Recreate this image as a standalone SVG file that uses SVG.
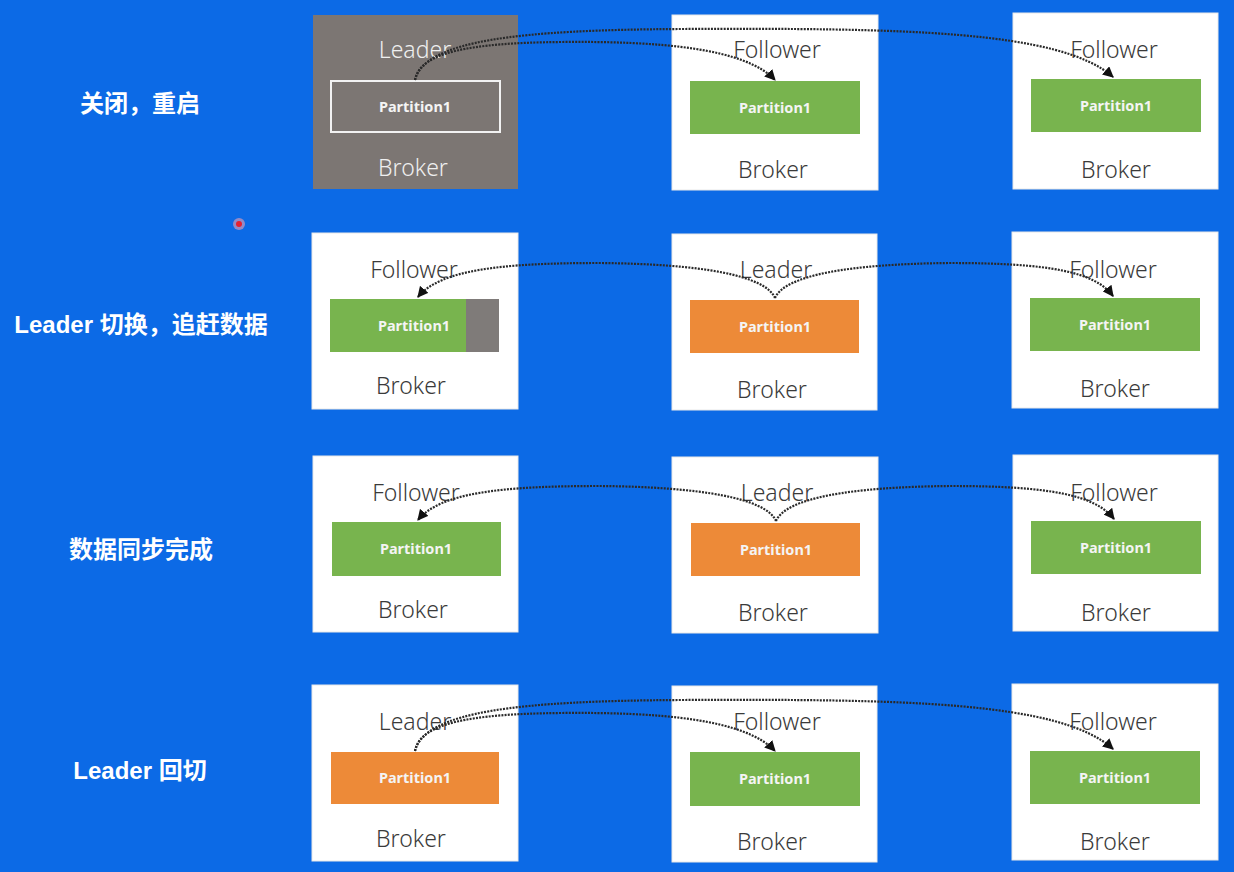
<svg xmlns="http://www.w3.org/2000/svg" width="1234" height="872" viewBox="0 0 1234 872">
<defs>
<style>
.bg{fill:#0c6ae6}
.box{fill:#ffffff;stroke:#e8e8e8;stroke-width:1}
.dead{fill:#7c7673}
.lbl{font-family:"Noto Sans","Liberation Sans",sans-serif;font-size:23px;fill:#3a3a3a;text-anchor:middle;font-weight:300}
.lblw{font-family:"Noto Sans","Liberation Sans",sans-serif;font-size:23px;fill:#efefef;text-anchor:middle;font-weight:300}
.pt{font-family:"Noto Sans","Liberation Sans",sans-serif;font-size:14.5px;font-weight:bold;fill:#f4f4f4;text-anchor:middle}
.green{fill:#78b44e}
.orange{fill:#ed8a38}
.grey{fill:#7f7b79}
.side{font-family:"Liberation Sans","Noto Sans CJK SC",sans-serif;font-size:24px;font-weight:bold;fill:#ffffff;text-anchor:middle}
.conn{fill:none;stroke:#2a2a2a;stroke-width:2.2;stroke-dasharray:2 1.2}
</style>
<marker id="ah" viewBox="0 0 10 10" refX="9" refY="5" markerWidth="5" markerHeight="5" orient="auto" markerUnits="strokeWidth">
<path d="M0,0 L10,5 L0,10 z" fill="#111"/>
</marker>
</defs>
<rect class="bg" x="0" y="0" width="1234" height="872"/>

<g id="labels">
<text class="side" x="140" y="112">关闭，重启</text>
<text class="side" x="141" y="333">Leader 切换，追赶数据</text>
<text class="side" x="141" y="558">数据同步完成</text>
<text class="side" x="140" y="779">Leader 回切</text>
</g>

<circle cx="239" cy="224" r="6" fill="#f0a0b0" opacity="0.6"/>
<circle cx="239" cy="224" r="3" fill="#e52030"/>

<!-- Row 1 -->
<g id="r1a">
<rect class="dead" x="313" y="15" width="205" height="174"/>
<text class="lblw" x="415" y="58">Leader</text>
<rect x="331" y="81" width="169" height="51" fill="none" stroke="#f2f2f2" stroke-width="2"/>
<text class="pt" x="415" y="112">Partition1</text>
<text class="lblw" x="413" y="176">Broker</text>
</g>
<g id="r1b">
<rect class="box" x="672" y="15" width="206" height="175"/>
<text class="lbl" x="777" y="58">Follower</text>
<rect class="green" x="690" y="81" width="170" height="53"/>
<text class="pt" x="775" y="113">Partition1</text>
<text class="lbl" x="773" y="178">Broker</text>
</g>
<g id="r1c">
<rect class="box" x="1013" y="13" width="205" height="176"/>
<text class="lbl" x="1114" y="58">Follower</text>
<rect class="green" x="1031" y="79" width="170" height="53"/>
<text class="pt" x="1116" y="111">Partition1</text>
<text class="lbl" x="1116" y="178">Broker</text>
</g>

<!-- Row 2 -->
<g id="r2a">
<rect class="box" x="312" y="233" width="206" height="176"/>
<text class="lbl" x="414" y="278">Follower</text>
<rect class="green" x="330" y="299" width="136" height="53"/>
<rect class="grey" x="466" y="299" width="33" height="53"/>
<text class="pt" x="414" y="331">Partition1</text>
<text class="lbl" x="411" y="394">Broker</text>
</g>
<g id="r2b">
<rect class="box" x="672" y="234" width="205" height="176"/>
<text class="lbl" x="776" y="278">Leader</text>
<rect class="orange" x="690" y="300" width="169" height="53"/>
<text class="pt" x="775" y="332">Partition1</text>
<text class="lbl" x="772" y="398">Broker</text>
</g>
<g id="r2c">
<rect class="box" x="1012" y="232" width="206" height="176"/>
<text class="lbl" x="1113" y="278">Follower</text>
<rect class="green" x="1030" y="298" width="170" height="53"/>
<text class="pt" x="1115" y="330">Partition1</text>
<text class="lbl" x="1115" y="397">Broker</text>
</g>

<!-- Row 3 -->
<g id="r3a">
<rect class="box" x="313" y="456" width="205" height="176"/>
<text class="lbl" x="416" y="501">Follower</text>
<rect class="green" x="332" y="522" width="169" height="54"/>
<text class="pt" x="416" y="554">Partition1</text>
<text class="lbl" x="413" y="618">Broker</text>
</g>
<g id="r3b">
<rect class="box" x="672" y="457" width="206" height="176"/>
<text class="lbl" x="777" y="501">Leader</text>
<rect class="orange" x="691" y="523" width="169" height="53"/>
<text class="pt" x="776" y="555">Partition1</text>
<text class="lbl" x="773" y="621">Broker</text>
</g>
<g id="r3c">
<rect class="box" x="1013" y="455" width="205" height="176"/>
<text class="lbl" x="1114" y="501">Follower</text>
<rect class="green" x="1031" y="521" width="170" height="53"/>
<text class="pt" x="1116" y="553">Partition1</text>
<text class="lbl" x="1116" y="621">Broker</text>
</g>

<!-- Row 4 -->
<g id="r4a">
<rect class="box" x="312" y="685" width="206" height="176"/>
<text class="lbl" x="415" y="730">Leader</text>
<rect class="orange" x="331" y="752" width="168" height="52"/>
<text class="pt" x="415" y="783">Partition1</text>
<text class="lbl" x="411" y="847">Broker</text>
</g>
<g id="r4b">
<rect class="box" x="672" y="686" width="205" height="176"/>
<text class="lbl" x="777" y="730">Follower</text>
<rect class="green" x="690" y="752" width="170" height="54"/>
<text class="pt" x="775" y="784">Partition1</text>
<text class="lbl" x="772" y="850">Broker</text>
</g>
<g id="r4c">
<rect class="box" x="1012" y="684" width="206" height="176"/>
<text class="lbl" x="1113" y="730">Follower</text>
<rect class="green" x="1030" y="751" width="170" height="53"/>
<text class="pt" x="1115" y="783">Partition1</text>
<text class="lbl" x="1115" y="850">Broker</text>
</g>

<g id="connectors">
<path class="conn" marker-end="url(#ah)" d="M415,80 C420,52 470,43 560,42 C660,41 745,48 775,80"/>
<path class="conn" marker-end="url(#ah)" d="M415,80 C425,40 520,30 680,29 C900,28 1060,30 1113,77"/>
<path class="conn" marker-end="url(#ah)" d="M775,298 C765,275 700,264 600,263 C500,263 440,270 418,297"/>
<path class="conn" marker-end="url(#ah)" d="M775,298 C785,275 850,264 950,263 C1050,263 1095,272 1113,296"/>
<path class="conn" marker-end="url(#ah)" d="M776,521 C766,498 700,487 600,486 C500,486 440,493 418,520"/>
<path class="conn" marker-end="url(#ah)" d="M776,521 C786,498 850,487 950,486 C1050,486 1095,495 1114,519"/>
<path class="conn" marker-end="url(#ah)" d="M415,751 C420,723 470,714 560,713 C660,712 745,719 775,751"/>
<path class="conn" marker-end="url(#ah)" d="M415,751 C425,711 520,701 680,700 C900,699 1060,701 1113,749"/>
</g>
</svg>
